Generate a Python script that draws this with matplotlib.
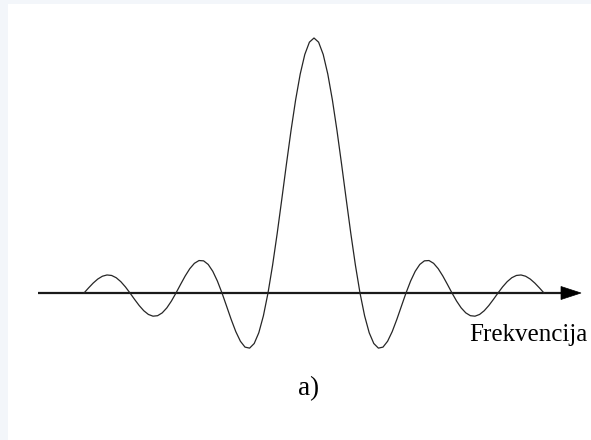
import matplotlib
matplotlib.use("Agg")
import matplotlib.pyplot as plt
from matplotlib.patches import Rectangle, Polygon

# Frequency positions (normalised units) and amplitude values
freq = [-5.0, -4.9, -4.8, -4.7, -4.6, -4.5, -4.4, -4.3, -4.2, -4.1,
        -4.0, -3.9, -3.8, -3.7, -3.6, -3.5, -3.4, -3.3, -3.2, -3.1,
        -3.0, -2.9, -2.8, -2.7, -2.6, -2.5, -2.4, -2.3, -2.2, -2.1,
        -2.0, -1.9, -1.8, -1.7, -1.6, -1.5, -1.4, -1.3, -1.2, -1.1,
        -1.0, -0.9, -0.8, -0.7, -0.6, -0.5, -0.4, -0.3, -0.2, -0.1,
        0.0,
        0.1, 0.2, 0.3, 0.4, 0.5, 0.6, 0.7, 0.8, 0.9, 1.0,
        1.1, 1.2, 1.3, 1.4, 1.5, 1.6, 1.7, 1.8, 1.9, 2.0,
        2.1, 2.2, 2.3, 2.4, 2.5, 2.6, 2.7, 2.8, 2.9, 3.0,
        3.1, 3.2, 3.3, 3.4, 3.5, 3.6, 3.7, 3.8, 3.9, 4.0,
        4.1, 4.2, 4.3, 4.4, 4.5, 4.6, 4.7, 4.8, 4.9, 5.0]

amplitude = [0.0, 0.0201, 0.0390, 0.0548, 0.0658, 0.0707, 0.0688, 0.0599, 0.0445, 0.0240,
             0.0, -0.0252, -0.0492, -0.0696, -0.0841, -0.0909, -0.0890, -0.0780, -0.0585, -0.0317,
             0.0, 0.0339, 0.0668, 0.0954, 0.1164, 0.1273, 0.1261, 0.1120, 0.0850, 0.0468,
             0.0, -0.0518, -0.1039, -0.1515, -0.1892, -0.2122, -0.2162, -0.1981, -0.1559, -0.0894,
             0.0, 0.1093, 0.2339, 0.3679, 0.5046, 0.6366, 0.7568, 0.8584, 0.9355, 0.9836,
             1.0,
             0.9836, 0.9355, 0.8584, 0.7568, 0.6366, 0.5046, 0.3679, 0.2339, 0.1093, 0.0,
             -0.0894, -0.1559, -0.1981, -0.2162, -0.2122, -0.1892, -0.1515, -0.1039, -0.0518, 0.0,
             0.0468, 0.0850, 0.1120, 0.1261, 0.1273, 0.1164, 0.0954, 0.0668, 0.0339, 0.0,
             -0.0317, -0.0585, -0.0780, -0.0890, -0.0909, -0.0841, -0.0696, -0.0492, -0.0252, 0.0,
             0.0240, 0.0445, 0.0599, 0.0688, 0.0707, 0.0658, 0.0548, 0.0390, 0.0201, 0.0]

axis_label = "Frekvencija"
panel_label = "a)"

W, H = 591, 440
fig = plt.figure(figsize=(W / 100, H / 100), dpi=100)
fig.patch.set_facecolor("#F3F6FA")

ax = fig.add_axes([0, 0, 1, 1])
ax.set_facecolor("none")
ax.axis("off")

# white panel (figure-fraction coordinates), drawn beneath everything in the axes
ax.add_patch(Rectangle((8 / W, 0), 1 - 8 / W, 1 - 4 / H, transform=fig.transFigure,
                       facecolor="white", edgecolor="none", zorder=0))

# pixel mapping: centre at x=314px, 46px per unit; zero at y=293px, 255px per unit
ux, cx = 46.0, 314.0
uy, cy = 255.0, 293.0
ax.set_xlim((0 - cx) / ux, (W - cx) / ux)
ax.set_ylim(-(H - cy) / uy, cy / uy)

# horizontal frequency axis with arrow head
x_start = (38 - cx) / ux
x_tip = (581 - cx) / ux
x_head = (561 - cx) / ux
half_h = 6.5 / uy
ax.plot([x_start, x_head + 0.05], [0, 0], color="#1a1a1a", lw=1.6, solid_capstyle="butt", zorder=2)
ax.add_patch(Polygon([[x_head, half_h], [x_tip, 0], [x_head, -half_h]], closed=True,
                     facecolor="black", edgecolor="black", lw=0.5, zorder=3))

# curve
ax.plot(freq, amplitude, color="#262626", lw=0.9, zorder=4)

serif = ["Liberation Serif", "DejaVu Serif"]
ax.text((469 - cx) / ux, -(341 - cy) / uy, axis_label, family=serif, fontsize=18,
        ha="left", va="baseline", color="black", zorder=5)
ax.text((308.5 - cx) / ux, -(395 - cy) / uy, panel_label, family=serif, fontsize=19.5,
        ha="center", va="baseline", color="black", zorder=5)

fig.savefig("out.png", dpi=100, facecolor=fig.get_facecolor())
